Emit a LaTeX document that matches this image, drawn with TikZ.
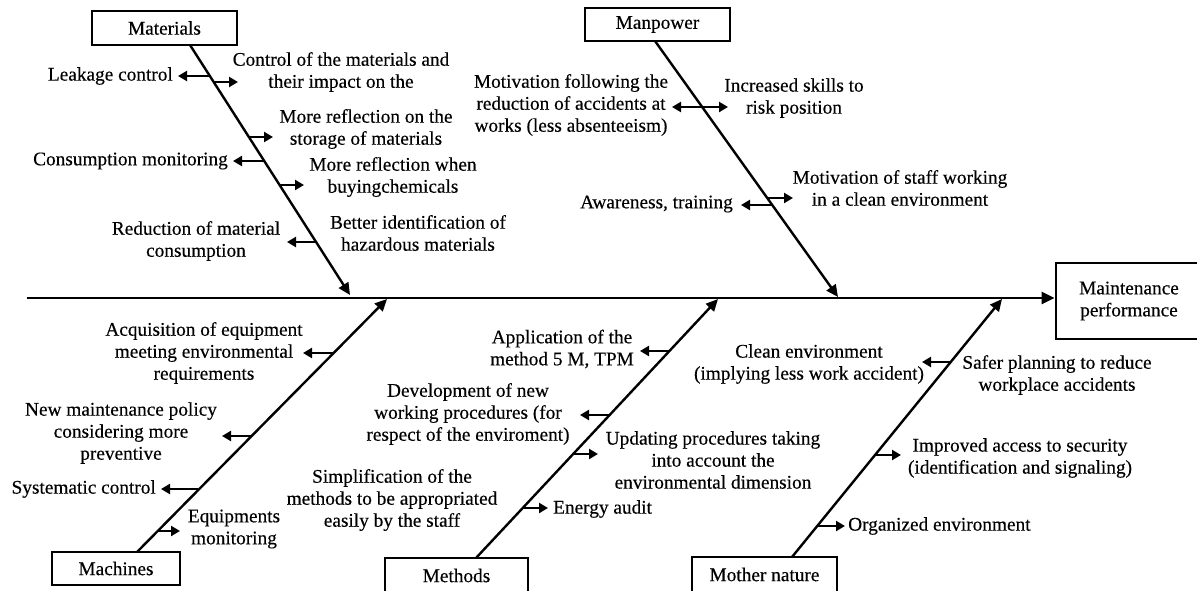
\documentclass[tikz,border=0pt]{standalone}
\usepackage{fontspec}
\setmainfont[FakeBold=0.3]{Liberation Serif}
\usetikzlibrary{arrows.meta}
\newcommand\dgfont{\fontsize{19.3}{22}\selectfont}
\begin{document}
\begin{tikzpicture}[x=1pt,y=-1pt,
  box/.style={draw,line width=2.8pt,inner sep=0pt,align=center,font=\dgfont},
  txt/.style={inner sep=0pt,align=center,font=\dgfont},
  spine/.style={line width=2.6pt,-{Triangle[length=13pt,width=12pt]}},
  bone/.style={line width=2.4pt,-{Triangle[length=12pt,width=11pt]}},
  sub/.style={line width=2.4pt,-{Triangle[length=9pt,width=10pt]}},
  dsub/.style={line width=2.4pt,{Triangle[length=9pt,width=10pt]}-{Triangle[length=9pt,width=10pt]}}]
\clip (0,0) rectangle (1197,590);
\fill[white] (0,0) rectangle (1197,590);

% category boxes
\node[box,minimum width=145pt,minimum height=34pt] (mat) at (164.5,28) {Materials};
\node[box,minimum width=145pt,minimum height=33pt] (man) at (657.5,24.5) {Manpower};
\node[box,minimum width=128pt,minimum height=33pt] (mac) at (116,568.5) {Machines};
\node[box,minimum width=143pt,minimum height=35pt] (met) at (456.5,575.5) {Methods};
\node[box,minimum width=145pt,minimum height=35pt] (mot) at (764.5,574.5) {Mother nature};
\node[box,minimum width=146pt,minimum height=76pt] (eff) at (1129,301) {Maintenance\\performance};

% spine
\coordinate (spS) at (27,298);
\draw[spine] (spS) -- (spS -| eff.west);

% bones
\coordinate (matS) at (190,45);   \coordinate (matT) at (350,295);
\coordinate (manS) at (655,41);   \coordinate (manT) at (838,297);
\coordinate (macS) at (137,552);  \coordinate (macT) at (387,299);
\coordinate (metS) at (476,558);  \coordinate (metT) at (718,299);
\coordinate (motS) at (792,557);  \coordinate (motT) at (1002,299);
\draw[bone] (matS) -- (matT);
\draw[bone] (manS) -- (manT);
\draw[bone] (macS) -- (macT);
\draw[bone] (metS) -- (metT);
\draw[bone] (motS) -- (motT);

% Materials
\node[txt,anchor=east] (t1) at (173,76) {Leakage control};
\node[txt] (t2) at (341,72) {Control of the materials and\\their impact on the};
\node[txt] (t3) at (366,129) {More reflection on the\\storage of materials};
\node[txt,anchor=east] (t4) at (228,161) {Consumption monitoring};
\node[txt] (t5) at (393,177) {More reflection when\\buyingchemicals};
\node[txt] (t6) at (196,241) {Reduction of material\\consumption};
\node[txt] (t7) at (418,233) {Better identification of\\hazardous materials};
\coordinate (a1s) at (210,76);  \coordinate (a1e) at (178,76);
\coordinate (a2s) at (214,82);  \coordinate (a2e) at (238,82);
\coordinate (a3s) at (249,137); \coordinate (a3e) at (273,137);
\coordinate (a4s) at (265,161); \coordinate (a4e) at (233,161);
\coordinate (a5s) at (280,185); \coordinate (a5e) at (304,185);
\coordinate (a6s) at (317,242); \coordinate (a6e) at (287,242);
\draw[sub] (a1s) -- (a1e);
\draw[sub] (a2s) -- (a2e);
\draw[sub] (a3s) -- (a3e);
\draw[sub] (a4s) -- (a4e);
\draw[sub] (a5s) -- (a5e);
\draw[sub] (a6s) -- (a6e);

% Manpower
\node[txt] (t8) at (571,105) {Motivation following the\\reduction of accidents at\\works (less absenteeism)};
\node[txt] (t9) at (794,98) {Increased skills to\\risk position};
\node[txt,anchor=east] (t10) at (733,204) {Awareness, training};
\node[txt] (t11) at (900,188) {Motivation of staff working\\in a clean environment};
\coordinate (b1l) at (672,107); \coordinate (b1r) at (728,107);
\coordinate (b2s) at (772,205); \coordinate (b2e) at (741,205);
\coordinate (b3s) at (767,198); \coordinate (b3e) at (793,198);
\draw[dsub] (b1l) -- (b1r);
\draw[sub] (b2s) -- (b2e);
\draw[sub] (b3s) -- (b3e);

% Machines
\node[txt] (t12) at (204,353) {Acquisition of equipment\\meeting environmental\\requirements};
\node[txt] (t13) at (121,433) {New maintenance policy\\considering more\\preventive};
\node[txt,anchor=east] (t14) at (156,489) {Systematic control};
\node[txt] (t15) at (234,529) {Equipments\\monitoring};
\coordinate (c1s) at (334,353); \coordinate (c1e) at (303,353);
\coordinate (c2s) at (252,436); \coordinate (c2e) at (222,436);
\coordinate (c3s) at (198,489); \coordinate (c3e) at (161,489);
\coordinate (c4s) at (157,531); \coordinate (c4e) at (180,531);
\draw[sub] (c1s) -- (c1e);
\draw[sub] (c2s) -- (c2e);
\draw[sub] (c3s) -- (c3e);
\draw[sub] (c4s) -- (c4e);

% Methods
\node[txt] (t16) at (562,349) {Application of the\\method 5 M, TPM};
\node[txt] (t17) at (468,414) {Development of new\\working procedures (for\\respect of the enviroment)};
\node[txt] (t18) at (713,460) {Updating procedures taking\\into account the\\environmental dimension};
\node[txt,anchor=west] (t19) at (553,509) {Energy audit};
\node[txt] (t20) at (392,500) {Simplification of the\\methods to be appropriated\\easily by the staff};
\coordinate (d1s) at (669,351); \coordinate (d1e) at (640,351);
\coordinate (d2s) at (610,415); \coordinate (d2e) at (580,415);
\coordinate (d3s) at (573,454); \coordinate (d3e) at (598,454);
\coordinate (d4s) at (523,508); \coordinate (d4e) at (548,508);
\draw[sub] (d1s) -- (d1e);
\draw[sub] (d2s) -- (d2e);
\draw[sub] (d3s) -- (d3e);
\draw[sub] (d4s) -- (d4e);

% Mother nature
\node[txt] (t21) at (809,364) {Clean environment\\(implying less work accident)};
\node[txt] (t22) at (1057,375) {Safer planning to reduce\\workplace accidents};
\node[txt] (t23) at (1020,458) {Improved access to security\\(identification and signaling)};
\node[txt,anchor=west] (t24) at (848,526) {Organized environment};
\coordinate (e1s) at (951,362); \coordinate (e1e) at (922,362);
\coordinate (e2s) at (875,455); \coordinate (e2e) at (901,455);
\coordinate (e3s) at (817,526); \coordinate (e3e) at (845,526);
\draw[sub] (e1s) -- (e1e);
\draw[sub] (e2s) -- (e2e);
\draw[sub] (e3s) -- (e3e);
\end{tikzpicture}
\end{document}
